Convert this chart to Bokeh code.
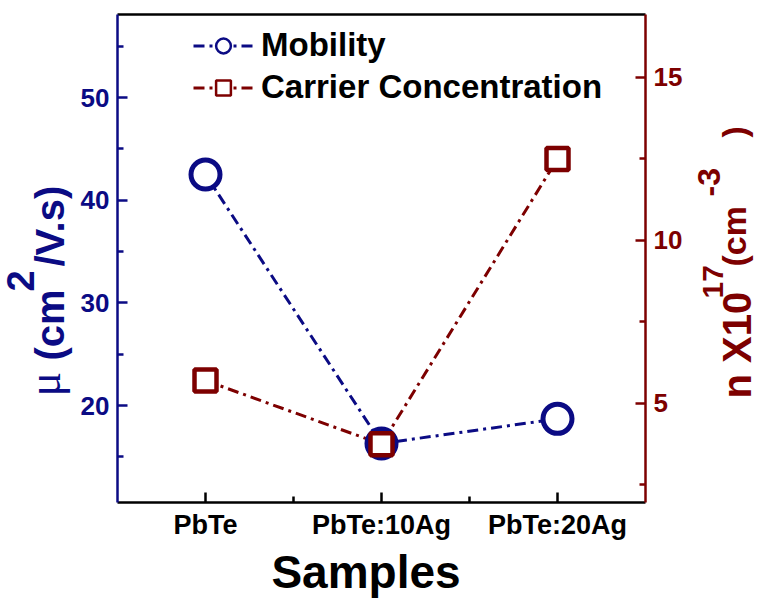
from bokeh.plotting import figure
from bokeh.layouts import row, column
from bokeh.models import Range1d, LinearAxis, FixedTicker, Label, Legend, LegendItem
from bokeh.embed import file_html
from bokeh.resources import INLINE

# ---- data ----
samples = ["PbTe", "PbTe:10Ag", "PbTe:20Ag"]
mobility = [42.5, 16.3, 18.7]          # cm^2/V.s (left axis)
carrier = [5.7, 3.75, 12.5]            # x10^17 cm^-3 (right axis)
x_minor = [1.5, 2.5]
left_ticks = [20, 30, 40, 50]
left_minor = [15, 25, 35, 45, 55]
right_ticks = [5, 10, 15]
right_minor = [2.5, 7.5, 12.5]

NAVY = "#0b0b84"
RED = "#7d0000"
FONT = "Liberation Sans"

W, H = 759, 598
LW, RW, BH = 76, 69, 56                # side/bottom strips for axis titles
L, R, T, B = 117, 645, 14, 502         # frame in page pixels
x0, x1 = 0.5, 3.5
yl0, yl1 = 10.55, 58.1
yr0, yr1 = 1.96, 16.93

xs = list(range(1, len(samples) + 1))
NAN = float("nan")

MW = W - LW - RW
MH = H - BH
p = figure(width=MW, height=MH,
           min_border_left=L - LW, min_border_right=W - RW - R,
           min_border_top=T, min_border_bottom=MH - B,
           x_range=Range1d(x0, x1), y_range=Range1d(yl0, yl1),
           output_backend="svg", toolbar_location=None)
p.outline_line_color = None
p.grid.visible = False
p.background_fill_color = "white"
p.border_fill_color = "white"
p.extra_y_ranges = {"right": Range1d(yr0, yr1)}


def style_axis(ax, col, size):
    ax.axis_line_color = col
    ax.axis_line_width = 2.5
    ax.major_tick_line_color = col
    ax.major_tick_line_width = 2.5
    ax.minor_tick_line_color = col
    ax.minor_tick_line_width = 2.5
    ax.major_tick_in = 10
    ax.major_tick_out = 0
    ax.minor_tick_in = 6
    ax.minor_tick_out = 0
    ax.major_label_text_color = col
    ax.major_label_text_font = FONT
    ax.major_label_text_font_style = "bold"
    ax.major_label_text_font_size = size
    ax.major_label_standoff = 8


xa = p.xaxis[0]
xa.ticker = FixedTicker(ticks=xs, minor_ticks=x_minor)
xa.major_label_overrides = {x: s for x, s in zip(xs, samples)}
style_axis(xa, "black", "27px")
xa.major_label_standoff = 7

ya = p.yaxis[0]
ya.ticker = FixedTicker(ticks=left_ticks, minor_ticks=left_minor)
style_axis(ya, NAVY, "26px")

ra = LinearAxis(y_range_name="right",
                ticker=FixedTicker(ticks=right_ticks, minor_ticks=right_minor))
style_axis(ra, RED, "26px")
p.add_layout(ra, "right")

ta = LinearAxis(ticker=FixedTicker(ticks=[]))
ta.axis_line_color = "black"
ta.axis_line_width = 2.5
ta.major_tick_in = 0
ta.major_tick_out = 0
ta.minor_tick_in = 0
ta.minor_tick_out = 0
p.add_layout(ta, "above")

DASH = "11 5 3 5"
l1 = p.line(xs, mobility, line_color=NAVY, line_width=3, line_dash=DASH)
l2 = p.line(xs, carrier, y_range_name="right", line_color=RED, line_width=3, line_dash=DASH)
p.scatter(xs, mobility, marker="circle", size=29, line_color=NAVY, line_width=5, fill_color="white")
p.scatter(xs, carrier, y_range_name="right", marker="square", size=22, line_color=RED, line_width=4.5, fill_color="white")

# legend-only marker renderers (thin lines, nothing drawn in the plot)
lm1 = p.scatter([NAN], [NAN], marker="circle", line_color=NAVY, line_width=2.5, fill_color="white")
lm2 = p.scatter([NAN], [NAN], marker="square", line_color=RED, line_width=2.5, fill_color="white")
leg = Legend(items=[LegendItem(label="Mobility", renderers=[l1, lm1]),
                    LegendItem(label="Carrier Concentration", renderers=[l2, lm2])],
             location=(76, 396), padding=0, margin=0, spacing=4,
             glyph_width=60, glyph_height=37, label_standoff=8,
             label_text_font=FONT, label_text_font_style="bold",
             label_text_font_size="33px", label_text_color="black",
             border_line_color=None, background_fill_alpha=0)
p.add_layout(leg, "center")


def strip(w, h):
    f = figure(width=w, height=h, x_range=Range1d(0, w), y_range=Range1d(0, h),
               x_axis_type=None, y_axis_type=None, min_border=0,
               output_backend="svg", toolbar_location=None)
    f.outline_line_color = None
    f.grid.visible = False
    return f


def add_text(f, ox, oy, text, bx, by, size, color, bold=True, font=FONT, angle=90,
             align="left", k=0.3465):
    """(bx, by): start of the text on its baseline, in page pixels."""
    shift = k * size  # from baseline to the middle of the text box
    if angle == 90:
        ax_, ay_ = bx - shift, by
    else:
        ax_, ay_ = bx, by - shift
    h = f.height
    f.add_layout(Label(x=ax_ - ox, y=h - (ay_ - oy), text=text, angle=angle, angle_units="deg",
                       text_font=font, text_font_size=f"{size}px",
                       text_font_style="bold" if bold else "normal",
                       text_color=color, text_align=align, text_baseline="middle"))


# left axis title: μ (cm2/V.s)
lf = strip(LW, H)
add_text(lf, 0, 0, "\u03bc", 60, 396, 46, NAVY, bold=False, font="Liberation Serif", k=0.3375)
add_text(lf, 0, 0, "(cm", 63, 360, 40, NAVY)
add_text(lf, 0, 0, "2", 33, 291, 38, NAVY)
add_text(lf, 0, 0, "/V.s)", 63, 266, 40, NAVY)

# right axis title: n X10^17 (cm^-3)
rf = strip(RW, H)
ox = W - RW
add_text(rf, ox, 0, "n X10", 750, 398, 40, RED)
add_text(rf, ox, 0, "17", 723, 298, 30, RED)
add_text(rf, ox, 0, "(cm", 745, 266, 34, RED)
add_text(rf, ox, 0, "-3", 720, 196, 32, RED)
add_text(rf, ox, 0, ")", 745, 137, 34, RED)

# x axis title
bf = strip(MW, BH)
add_text(bf, LW, MH, "Samples", 365, 587, 46, "black", angle=0, align="center")

layout = row(lf, column(p, bf), rf)
open("out.html", "w").write(file_html(layout, INLINE))
